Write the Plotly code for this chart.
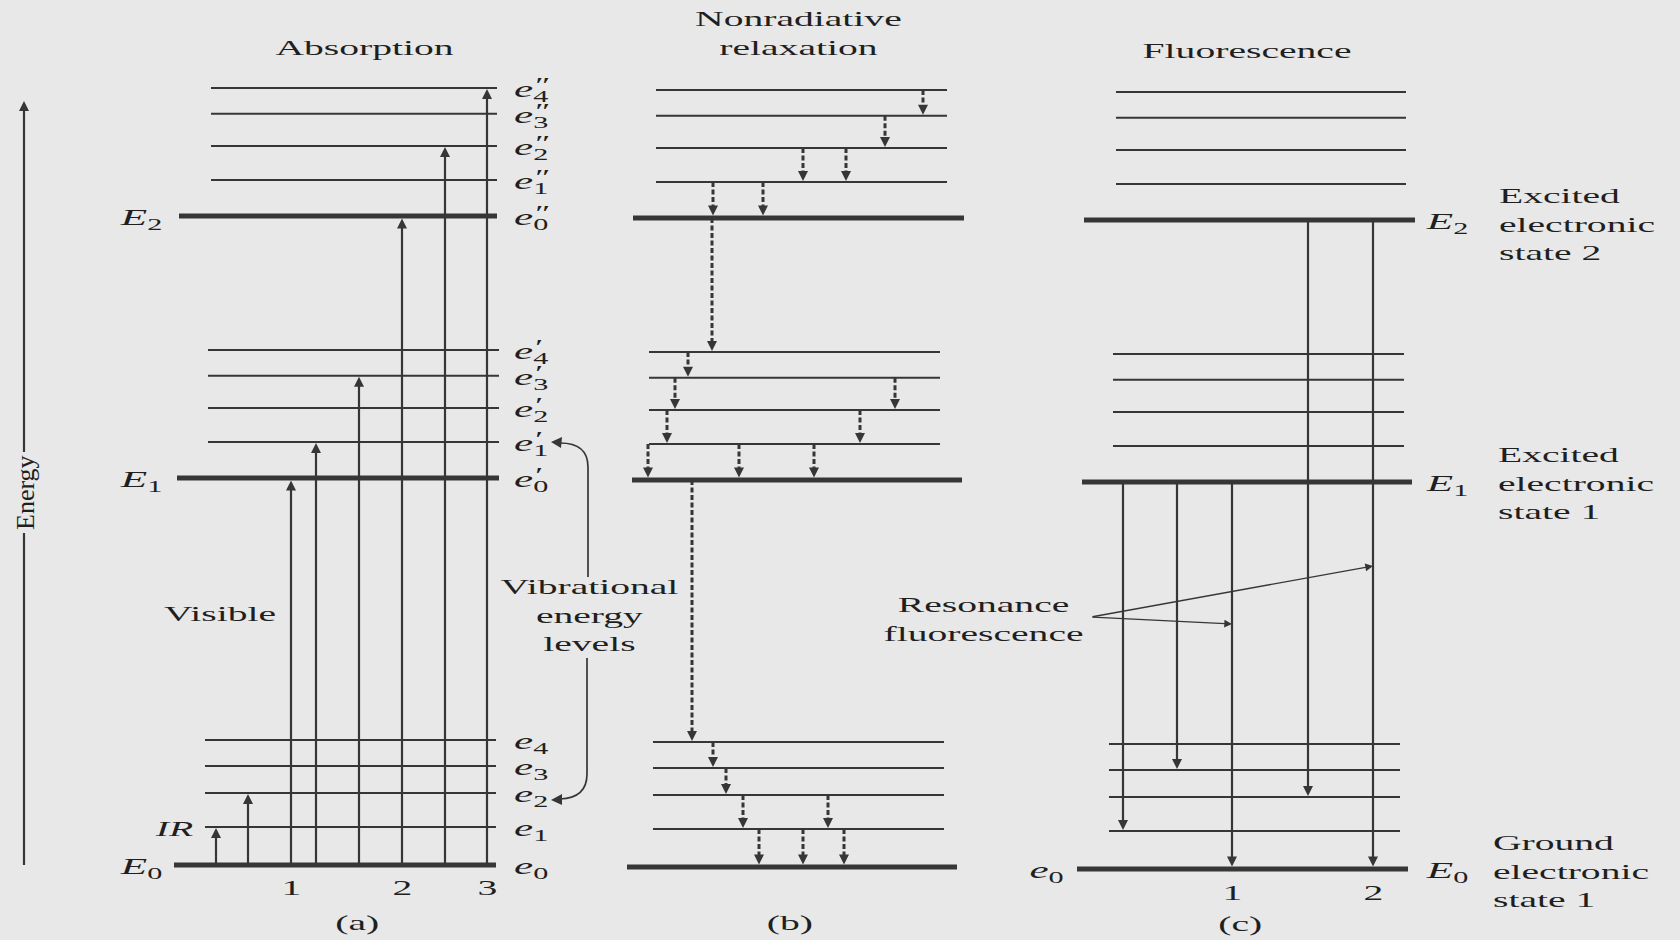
import plotly.graph_objects as go

# ---------------------------------------------------------------------------
# Energy levels (arbitrary units): vibrational sub-levels e0..e4 of each
# electronic state E0 (ground), E1 and E2 (excited)
# ---------------------------------------------------------------------------
state_names = ["E0", "E1", "E2"]
ground_state = [0.00, 0.98, 1.86, 2.56, 3.23]
excited_state_1 = [10.00, 10.93, 11.81, 12.64, 13.31]
excited_state_2 = [16.77, 17.70, 18.58, 19.41, 20.08]
levels = [ground_state, excited_state_1, excited_state_2]

# (a) absorption from E0,e0 up to (state, vibrational level)
absorption_ir = [(0, 1), (0, 2)]
absorption_visible = [(1, 0), (1, 1), (1, 3), (2, 0), (2, 2), (2, 4)]
absorption_groups = ["1", "2", "3"]

# (b) nonradiative relaxation steps: (state from, v from, state to, v to)
relaxation_steps = [
    (2, 4, 2, 3), (2, 3, 2, 2), (2, 2, 2, 1), (2, 2, 2, 1), (2, 1, 2, 0), (2, 1, 2, 0),
    (2, 0, 1, 4),
    (1, 4, 1, 3), (1, 3, 1, 2), (1, 3, 1, 2), (1, 2, 1, 1), (1, 2, 1, 1),
    (1, 1, 1, 0), (1, 1, 1, 0), (1, 1, 1, 0),
    (1, 0, 0, 4),
    (0, 4, 0, 3), (0, 3, 0, 2), (0, 2, 0, 1), (0, 2, 0, 1),
    (0, 1, 0, 0), (0, 1, 0, 0), (0, 1, 0, 0),
]

# (c) fluorescence: (state from, v from, state to, v to)
fluorescence = [(1, 0, 0, 1), (1, 0, 0, 3), (1, 0, 0, 0), (2, 0, 0, 2), (2, 0, 0, 0)]
fluorescence_groups = ["1", "2"]

# ---------------------------------------------------------------------------
# Layout / style
# ---------------------------------------------------------------------------
W, H = 1680, 940
ZERO_ROW = 867.0          # screen row of E0,e0
PX_PER_UNIT = 38.7        # screen pixels per energy unit
INK = "#363636"
TEXT = "#1f1f1f"
PAPER = "#e8e8e8"
SERIF = "Liberation Serif, Times New Roman, serif"
STRETCH = 1.8
THIN, THICK = 2.0, 5.0
HEAD = 10

SHIFT = {"a": -2.0, "b": 0.0, "c": 2.0}
SPAN = {
    "a": {"thin": [(205, 496), (208, 499), (211, 497)], "thick": [(174, 496), (177, 499), (179, 497)]},
    "b": {"thin": [(653, 944), (649, 940), (656, 947)], "thick": [(627, 957), (632, 962), (633, 964)]},
    "c": {"thin": [(1109, 1400), (1113, 1404), (1116, 1406)], "thick": [(1077, 1408), (1082, 1412), (1084, 1415)]},
}
ir_x = [216, 248]
visible_x = [291, 316, 359, 402, 445, 487]
relax_x = [923, 885, 803, 846, 713, 763,
           712,
           688, 675, 895, 667, 860, 648, 739, 814,
           692,
           713, 726, 743, 828, 759, 803, 844]
fluor_x = [1123, 1177, 1232, 1308, 1373]


def ey(rowpx):
    return (ZERO_ROW - rowpx) / PX_PER_UNIT


def rowof(energy, shift=0.0):
    return ZERO_ROW - energy * PX_PER_UNIT + shift


fig = go.Figure()

# ---- level lines
thin_x, thin_y, thick_x, thick_y = [], [], [], []
for p in "abc":
    for s, lv in enumerate(levels):
        for v, e in enumerate(lv):
            y = ey(rowof(e, SHIFT[p]))
            if v == 0:
                x0, x1 = SPAN[p]["thick"][s]
                thick_x += [x0, x1, None]
                thick_y += [y, y, None]
            else:
                x0, x1 = SPAN[p]["thin"][s]
                thin_x += [x0, x1, None]
                thin_y += [y, y, None]

fig.add_trace(go.Scatter(x=thin_x, y=thin_y, mode="lines", line=dict(color=INK, width=THIN)))
fig.add_trace(go.Scatter(x=thick_x, y=thick_y, mode="lines", line=dict(color=INK, width=THICK)))

# ---- arrows
solid = {"x": [], "y": []}
dashed = {"x": [], "y": []}
heads_up = {"x": [], "y": []}
heads_down = {"x": [], "y": []}


def add_arrow(store, x, e_from, e_to, shift, v_to):
    r0 = rowof(e_from, shift)
    r1 = rowof(e_to, shift)
    lw = THICK if v_to == 0 else THIN
    if r1 < r0:
        tip = r1 + lw / 2
        end = tip + HEAD - 2
        heads_up["x"].append(x)
        heads_up["y"].append(ey(tip))
    else:
        tip = r1 - lw / 2
        end = tip - HEAD + 2
        heads_down["x"].append(x)
        heads_down["y"].append(ey(tip))
    store["x"] += [x, x, None]
    store["y"] += [ey(r0), ey(end), None]


for (s, v), x in zip(absorption_ir + absorption_visible, ir_x + visible_x):
    add_arrow(solid, x, ground_state[0], levels[s][v], SHIFT["a"], v)

for (s0, v0, s1, v1), x in zip(relaxation_steps, relax_x):
    add_arrow(dashed, x, levels[s0][v0], levels[s1][v1], SHIFT["b"], v1)

for (s0, v0, s1, v1), x in zip(fluorescence, fluor_x):
    add_arrow(solid, x, levels[s0][v0], levels[s1][v1], SHIFT["c"], v1)

# energy axis
axis_bottom = rowof(ground_state[0], SHIFT["a"])
solid["x"] += [24, 24, None, 24, 24, None]
solid["y"] += [ey(axis_bottom), ey(533), None, ey(452), ey(102 + HEAD - 2), None]
heads_up["x"].append(24)
heads_up["y"].append(ey(101))

fig.add_trace(go.Scatter(x=solid["x"], y=solid["y"], mode="lines", line=dict(color=INK, width=2.2)))
fig.add_trace(go.Scatter(x=dashed["x"], y=dashed["y"], mode="lines",
                         line=dict(color=INK, width=3.0, dash="5px,2.5px")))
fig.add_trace(go.Scatter(x=heads_up["x"], y=heads_up["y"], mode="markers",
                         marker=dict(symbol="arrow-up", size=HEAD, color=INK, line=dict(width=0))))
fig.add_trace(go.Scatter(x=heads_down["x"], y=heads_down["y"], mode="markers",
                         marker=dict(symbol="arrow-down", size=HEAD, color=INK, line=dict(width=0))))

# ---- curved pointers for the vibrational-level caption
shapes = [
    dict(type="path", xref="x", yref="y", line=dict(color=INK, width=1.7),
         path=f"M 588,{ey(577)} L 588,{ey(467)} Q 588,{ey(443)} 560,{ey(443)}"),
    dict(type="path", xref="x", yref="y", line=dict(width=0), fillcolor=INK,
         path=f"M 551,{ey(442)} L 562,{ey(437)} L 561,{ey(448)} Z"),
    dict(type="path", xref="x", yref="y", line=dict(color=INK, width=1.7),
         path=f"M 587,{ey(658)} L 587,{ey(774)} Q 587,{ey(798)} 560,{ey(799)}"),
    dict(type="path", xref="x", yref="y", line=dict(width=0), fillcolor=INK,
         path=f"M 551,{ey(800)} L 562,{ey(794)} L 562,{ey(805)} Z"),
]

# ---- text
annotations = []


def label(text, x, rowpx, size=22, anchor="center", angle=0):
    annotations.append(dict(
        text=text, x=x, y=ey(rowpx), xref="x", yref="y", showarrow=False,
        xanchor=anchor, yanchor="middle", align=anchor if anchor != "center" else "center",
        textangle=angle, font=dict(family=SERIF, size=size, color=TEXT)))


label("Absorption", 364, 47)
label("Nonradiative<br>relaxation", 798, 33)
label("Fluorescence", 1247, 50)
label("Visible", 220, 613)
label("<i>IR</i>", 174, 828)
label("Vibrational<br>energy<br>levels", 589, 615)
label("Resonance<br>fluorescence", 983, 619)
label("Excited<br>electronic<br>state 2", 1497, 224, anchor="left")
label("Excited<br>electronic<br>state 1", 1496, 483, anchor="left")
label("Ground<br>electronic<br>state 1", 1491, 871, anchor="left")
label("(a)", 357, 922)
label("(b)", 790, 922)
label("(c)", 1240, 923)
label("Energy", 25, 493, size=26, angle=-90)

# group numbers under the transitions
for name, x in zip(absorption_groups, [visible_x[0], visible_x[3], visible_x[5]]):
    label(name, x, 887)
for name, x in zip(fluorescence_groups, [fluor_x[2], fluor_x[4]]):
    label(name, x, 892)

# level names (prime marks stacked above the subscripts)
primes = ["", "\u2032", "\u2033"]
for s, lv in enumerate(levels):
    for v, e in enumerate(lv):
        r = rowof(e, SHIFT["a"])
        label(f"<i>e</i><sub>{v}</sub>", 512, r + 3, size=24, anchor="left")
        if primes[s]:
            label(f"<i>{primes[s]}</i>", 531, r - 3, size=20, anchor="left")
    label(f"<i>E</i><sub>{s}</sub>", 141, rowof(lv[0], SHIFT["a"]) + 3, size=24)
    label(f"<i>E</i><sub>{s}</sub>", 1447, rowof(lv[0], SHIFT["c"]) + 3, size=24)
label("<i>e</i><sub>0</sub>", 1046, rowof(ground_state[0], SHIFT["c"]) + 3, size=24)

# resonance fluorescence pointers
for hx, hrow in [(fluor_x[4], 566), (fluor_x[2], 624)]:
    annotations.append(dict(
        x=hx, y=ey(hrow), xref="x", yref="y", text="", showarrow=True,
        ax=1091 - hx, ay=617 - hrow, axref="pixel", ayref="pixel",
        arrowhead=2, arrowsize=1.1, arrowwidth=1.4, arrowcolor=INK, standoff=0))

fig.update_layout(
    width=W, height=H, autosize=False,
    margin=dict(l=0, r=0, t=0, b=0, pad=0),
    paper_bgcolor=PAPER, plot_bgcolor=PAPER,
    showlegend=False, hovermode=False,
    xaxis=dict(range=[0, W], visible=False, fixedrange=True),
    yaxis=dict(range=[ey(H), ey(0)], visible=False, fixedrange=True),
    shapes=shapes, annotations=annotations,
)

# widen the serif lettering horizontally, as in the printed figure:
# single-line texts get a longer textLength, multi-line blocks a horizontal scale
stretch_js = """
var gd = document.getElementById('{plot_id}');
var texts = gd.querySelectorAll('text.annotation-text');
for (var i = 0; i < texts.length; i++) {
  var t = texts[i];
  var outer = t.closest('g.annotation-text-g');
  var tr = outer ? (outer.getAttribute('transform') || '') : '';
  if (tr.indexOf('rotate(-90') >= 0) continue;
  if (t.querySelectorAll('tspan.line').length > 1) {
    var holder = t.parentNode;
    var a = t.getAttribute('text-anchor');
    var b = t.getBBox();
    var cx = (a === 'start') ? b.x : (a === 'end' ? b.x + b.width : b.x + b.width / 2);
    var prev = holder.getAttribute('transform') || '';
    holder.setAttribute('transform', prev + ' translate(' + cx + ',0) scale(STRETCH,1) translate(' + (-cx) + ',0)');
  } else {
    var len = t.getComputedTextLength();
    if (len > 0) {
      t.setAttribute('lengthAdjust', 'spacingAndGlyphs');
      t.setAttribute('textLength', (len * STRETCH).toFixed(2));
    }
  }
}
""".replace("STRETCH", str(STRETCH))

fig.write_html("out.html", config={"displayModeBar": False, "staticPlot": True}, post_script=stretch_js)
